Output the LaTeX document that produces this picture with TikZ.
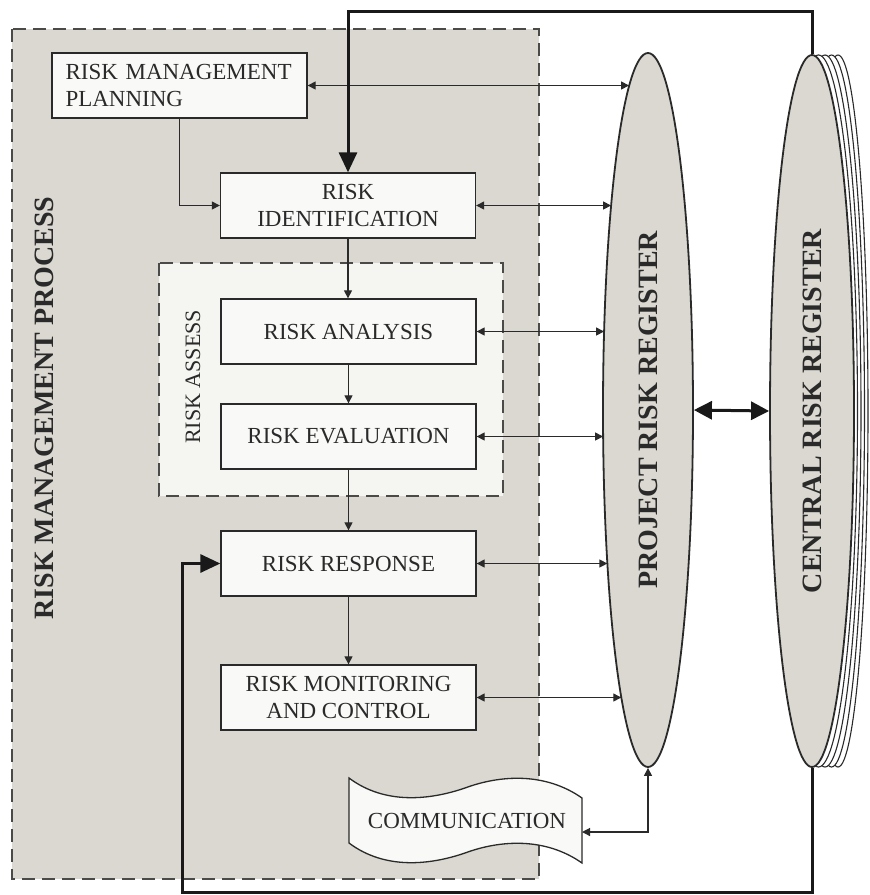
\documentclass[tikz,border=0pt]{standalone}
\usepackage{fontspec}
\setmainfont{Liberation Serif}
\usetikzlibrary{shapes.geometric,arrows.meta}

\definecolor{panel}{HTML}{DAD8D0}
\definecolor{boxfill}{HTML}{F9F9F7}
\definecolor{assessfill}{HTML}{F5F5F2}
\definecolor{ink}{HTML}{2A2A2A}
\definecolor{dashc}{HTML}{4A4A48}

\tikzset{
  procbox/.style={draw=ink, fill=boxfill, line width=1.3pt, minimum width=255pt,
    minimum height=65pt, inner sep=0pt, align=center, text=ink,
    font=\fontsize{23}{27}\selectfont},
  regbox/.style={ellipse, draw=ink, fill=panel, line width=1.8pt, inner sep=0pt,
    minimum width=90pt, minimum height=714pt},
  regback/.style={ellipse, draw=ink, fill=white, line width=1.1pt, inner sep=0pt,
    minimum height=712pt},
  reglabel/.style={rotate=90, text=ink, font=\fontsize{28}{32}\selectfont\bfseries},
  framebox/.style={draw=dashc, line width=1.5pt, dash pattern=on 13pt off 7pt},
  link/.style={draw=ink, line width=1.2pt},
  biarrow/.style={link, {Triangle[length=8pt,width=8pt]}-{Triangle[length=8pt,width=8pt]}},
  onearrow/.style={link, -{Triangle[length=8pt,width=8pt]}},
  heavy/.style={draw=black!90, line width=3pt, -{Triangle[length=20pt,width=18pt]}},
  heavybi/.style={draw=black!90, line width=3pt,
    {Triangle[length=18pt,width=18pt]}-{Triangle[length=18pt,width=18pt]}},
}

\begin{document}
\begin{tikzpicture}[x=1pt, y=-1pt]
\useasboundingbox (0,0) rectangle (870,895);

% process panel and the assessment sub-panel
\path[framebox, fill=panel] (12,29) rectangle (539,879);
\path[framebox, fill=assessfill] (159,263) rectangle (503,496);
\node[rotate=90, text=ink, font=\fontsize{28}{32}\selectfont\bfseries] (rmplabel)
  at (44,408) {RISK MANAGEMENT PROCESS};
\node[rotate=90, text=ink, font=\fontsize{22}{26}\selectfont] (assesslabel)
  at (193,377) {RISK ASSESS};

% project register
\node[regbox] (prr) at (648,410) {};
\node[reglabel] (prrlabel) at (prr.center) {PROJECT RISK REGISTER};

% central register: stacked sheets behind the front one
\foreach \k/\w in {4/60, 3/66, 2/72, 1/78} {
  \node[regback, minimum width=\w pt] (crrsheet\k) at (812+6.5*\k,411) {};
}
\node[regbox, minimum width=84pt, minimum height=712pt] (crr) at (812,411) {};
\node[reglabel] (crrlabel) at (crr.center) {CENTRAL RISK REGISTER};

% process steps
\node[procbox, align=left, text width=228pt] (rmp) at (179.5,85.5)
  {RISK MANAGEMENT\\PLANNING};
\node[procbox] (ri)   at (348,205.5) {RISK\\IDENTIFICATION};
\node[procbox] (ana)  at (348.5,331.5) {RISK ANALYSIS};
\node[procbox] (eva)  at (348.5,436.5) {RISK EVALUATION};
\node[procbox] (resp) at (348.5,563.5) {RISK RESPONSE};
\node[procbox] (mon)  at (348.5,697.5) {RISK MONITORING\\AND CONTROL};

% communication banner
\draw[draw=ink, fill=boxfill, line width=1.3pt]
  (349,778) .. controls (385,805) and (430,800) .. (465,788)
  .. controls (500,775) and (545,772) .. (582,798) -- (582,863)
  .. controls (545,837) and (500,840) .. (465,853)
  .. controls (430,865) and (385,870) .. (349,843) -- cycle;
\node[text=ink, font=\fontsize{23}{27}\selectfont] (comm) at (467,821) {COMMUNICATION};
\coordinate (commR) at (582,832);

% points on the left rim of the project register
\coordinate (e1) at (629.1,85.5);
\coordinate (e2) at (611.1,205.5);
\coordinate (e3) at (604.1,331.5);
\coordinate (e4) at (603.1,436.5);
\coordinate (e5) at (607.4,563.5);
\coordinate (e6) at (621.3,697.5);

% flow between steps
\draw[onearrow] (rmp.south) |- (ri.west);
\draw[onearrow] (ri.south) -- (ana.north -| ri.south);
\draw[onearrow] (ana) -- (eva);
\draw[onearrow] (eva) -- (resp);
\draw[onearrow] (resp) -- (mon);

% exchanges with the project register
\draw[biarrow] (rmp.east) -- (e1);
\draw[biarrow] (ri.east) -- (e2);
\draw[biarrow] (ana.east) -- (e3);
\draw[biarrow] (eva.east) -- (e4);
\draw[biarrow] (resp.east) -- (e5);
\draw[biarrow] (mon.east) -- (e6);
\draw[biarrow] (prr.south) |- (commR);

% register link and feedback loops
\draw[heavybi] (prr.east) -- (crr.west);
\coordinate (topturn) at (812,11);
\coordinate (loopcorner) at (182,892);
\draw[heavy] (crr.north) -- (topturn) -| (ri.north);
\draw[heavy] (crr.south) |- (loopcorner) |- (resp.west);
\end{tikzpicture}
\end{document}
